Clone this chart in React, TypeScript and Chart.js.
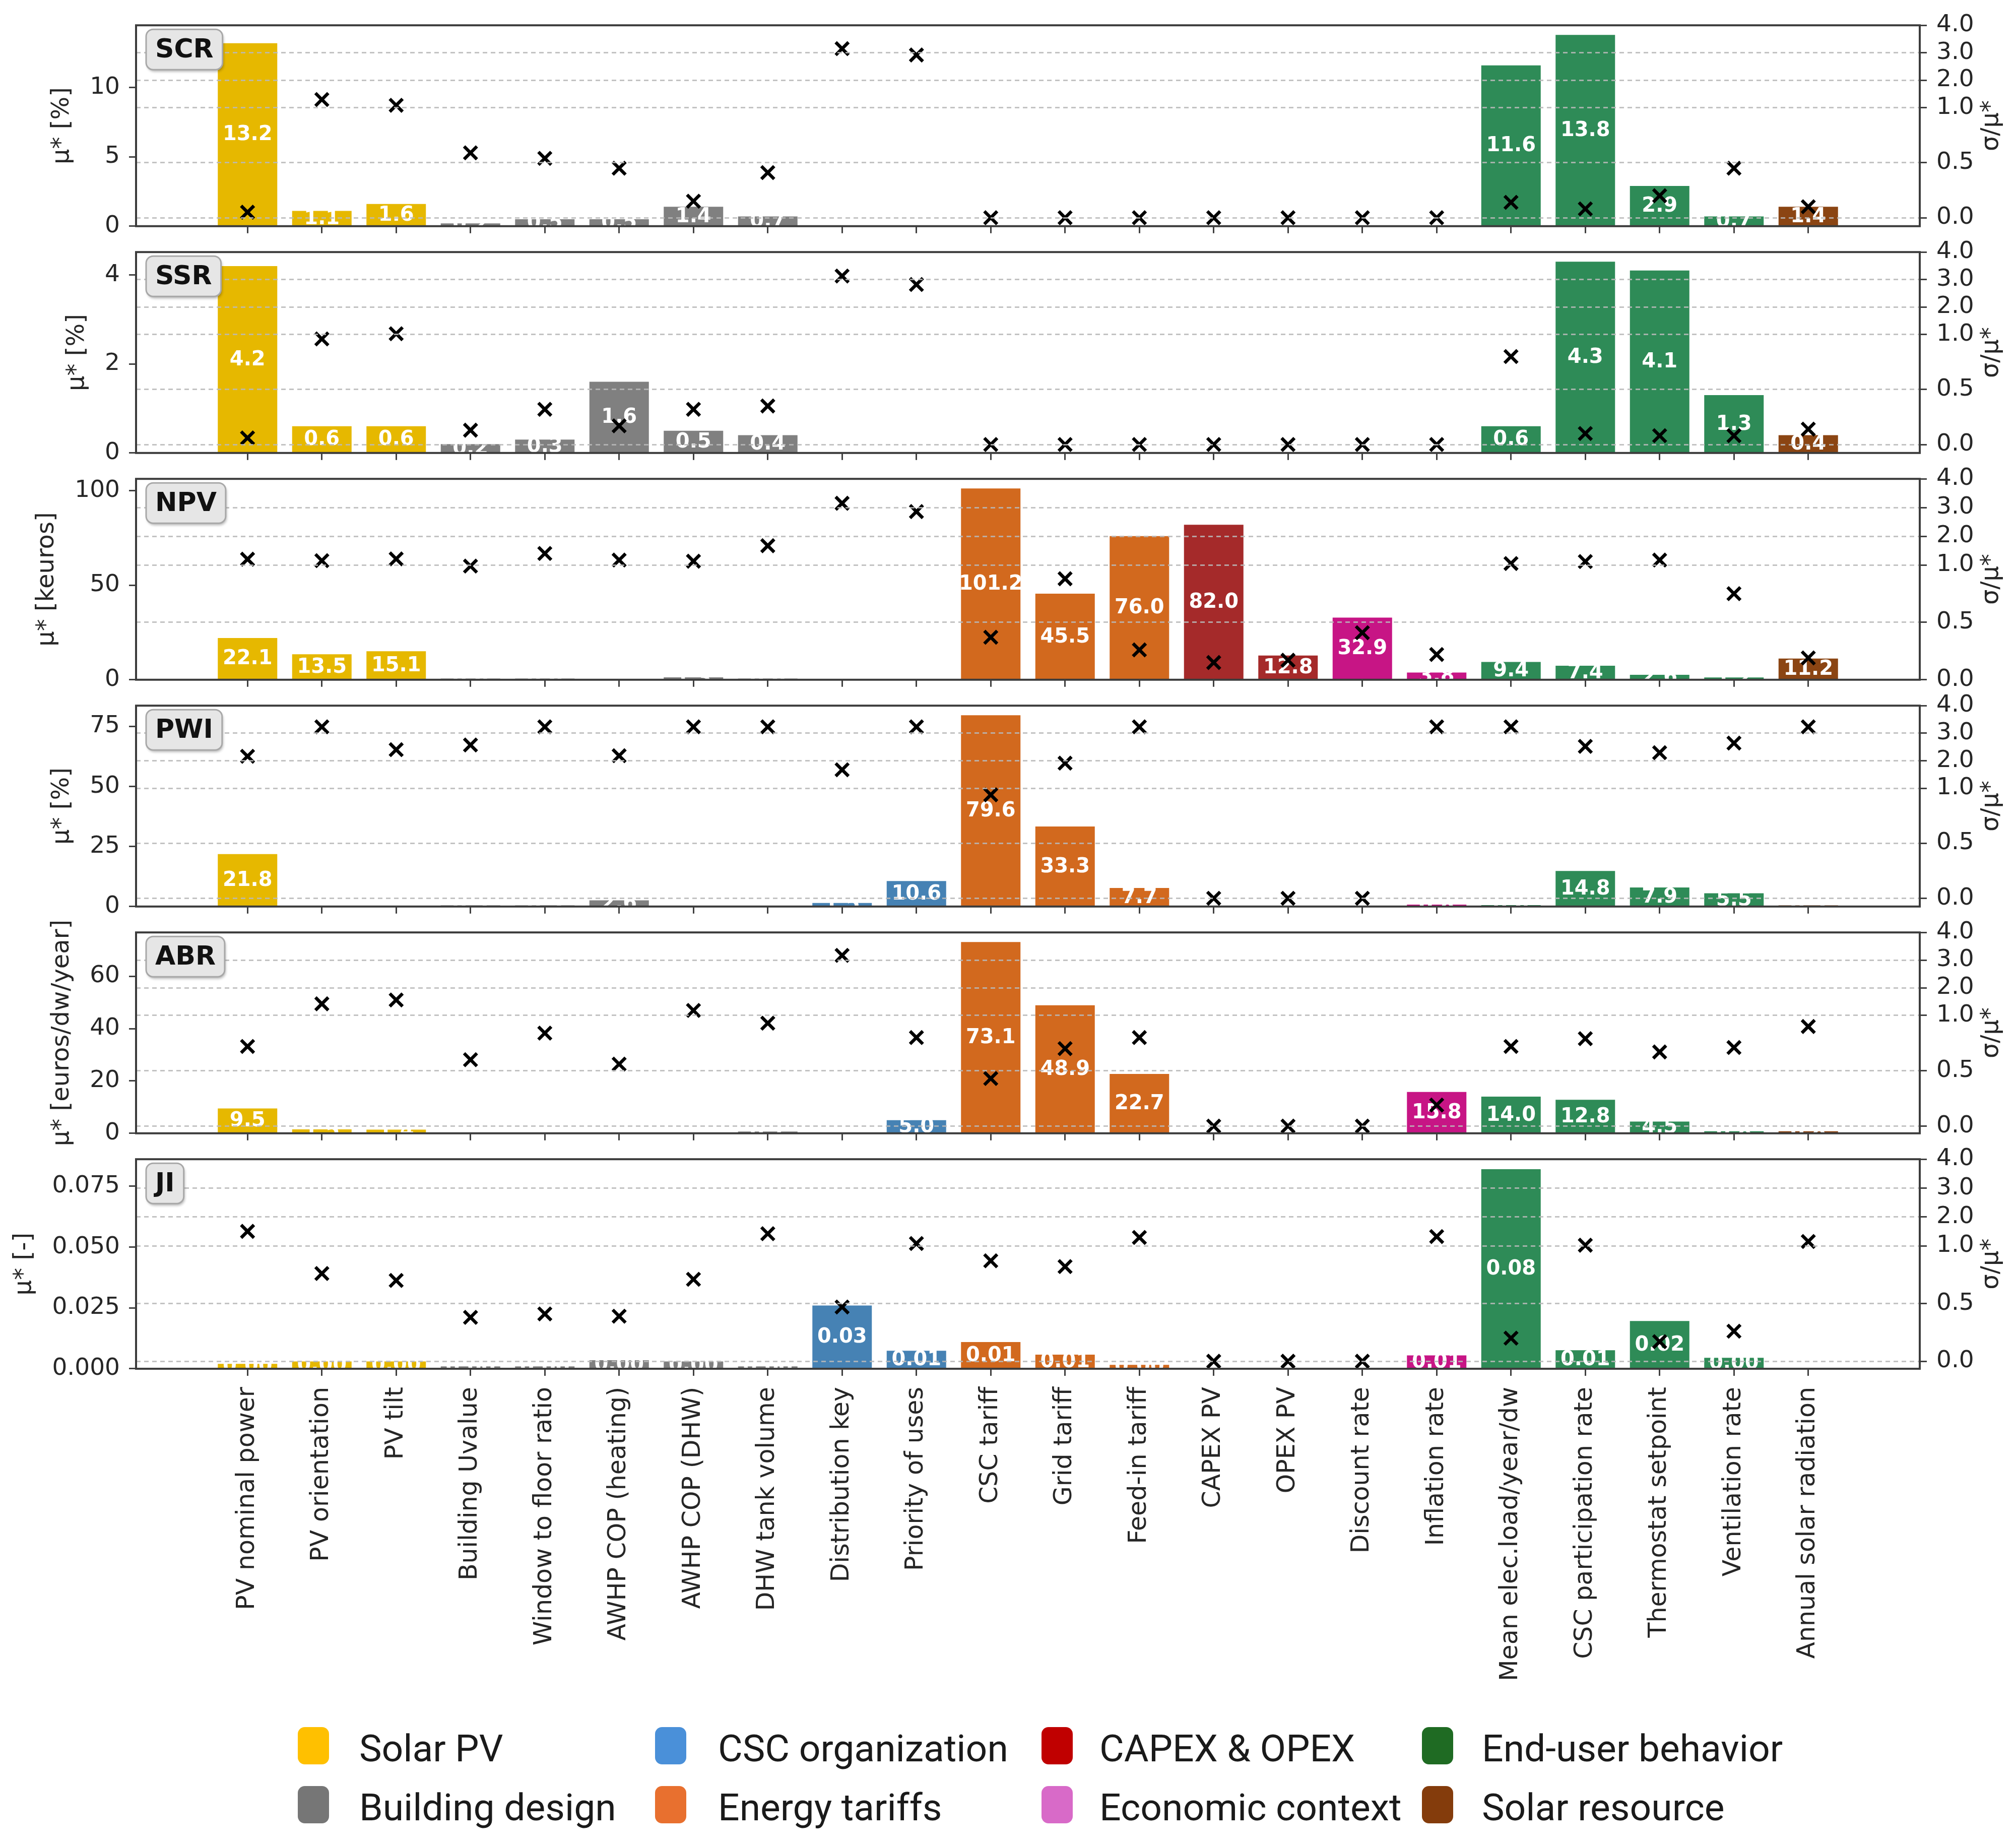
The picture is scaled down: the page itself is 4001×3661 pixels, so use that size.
import React, { useEffect, useRef } from "react";
import { Chart, registerables, LinearScale } from "chart.js";

Chart.register(...registerables);

// σ/μ* axis: linear from 0 to 1, then a quarter of that per unit up to 4
const fwd = (v: number) => (v <= 1 ? v : 1 + (v - 1) / 4);
const inv = (t: number) => (t <= 1 ? t : 1 + (t - 1) * 4);

class SigmaScale extends LinearScale {
  static id = "sigma";
  static defaults = LinearScale.defaults;
  getPixelForValue(value: any) {
    return value == null ? NaN : super.getPixelForValue(fwd(value));
  }
  getValueForPixel(pixel: number) {
    return inv(super.getValueForPixel(pixel) as number);
  }
}
Chart.register(SigmaScale as any);

Chart.defaults.font.family = "'DejaVu Sans', sans-serif";
Chart.defaults.color = "#262626";

// ---- data ----
const PARAMS = [
  "PV nominal power", "PV orientation", "PV tilt", "Building Uvalue",
  "Window to floor ratio", "AWHP COP (heating)", "AWHP COP (DHW)", "DHW tank volume",
  "Distribution key", "Priority of uses", "CSC tariff", "Grid tariff", "Feed-in tariff",
  "CAPEX PV", "OPEX PV", "Discount rate", "Inflation rate", "Mean elec.load/year/dw",
  "CSC participation rate", "Thermostat setpoint", "Ventilation rate", "Annual solar radiation",
];
const PARAM_GROUP = [0, 0, 0, 1, 1, 1, 1, 1, 2, 2, 3, 3, 3, 4, 4, 5, 5, 6, 6, 6, 6, 7];

const GROUPS = [
  "Solar PV", "Building design", "CSC organization", "Energy tariffs",
  "CAPEX & OPEX", "Economic context", "End-user behavior", "Solar resource",
];
const BAR_COLORS = ["#e6b800", "#808080", "#4682b4", "#d2691e", "#a52a2a", "#c71585", "#2e8b57", "#8b4513"];
const LEGEND_COLORS = ["#ffc000", "#767676", "#4a90d9", "#e8702f", "#c00000", "#d86ac8", "#1f6b23", "#843c0c"];

const SCR_MU = [13.2, 1.1, 1.6, 0.2, 0.5, 0.5, 1.4, 0.7, 0, 0, 0, 0, 0, 0, 0, 0, 0, 11.6, 13.8, 2.9, 0.7, 1.4];
const SCR_SIG = [0.05, 1.3, 1.09, 0.59, 0.54, 0.45, 0.15, 0.41, 3.15, 2.92, 0, 0, 0, 0, 0, 0, 0, 0.14, 0.08, 0.2, 0.45, 0.1];

const SSR_MU = [4.2, 0.6, 0.6, 0.2, 0.3, 1.6, 0.5, 0.4, 0, 0, 0, 0, 0, 0, 0, 0, 0, 0.6, 4.3, 4.1, 1.3, 0.4];
const SSR_SIG = [0.06, 0.96, 1.03, 0.13, 0.32, 0.17, 0.32, 0.35, 3.13, 2.82, 0, 0, 0, 0, 0, 0, 0, 0.8, 0.1, 0.08, 0.08, 0.14];

const NPV_MU = [22.1, 13.5, 15.1, 0.6, 0.6, 0.5, 1.3, 0.6, 0, 0, 101.2, 45.5, 76.0, 82.0, 12.8, 32.9, 3.8, 9.4, 7.4, 2.6, 1.2, 11.2];
const NPV_SIG = [1.2, 1.15, 1.21, 0.99, 1.4, 1.17, 1.13, 1.67, 3.15, 2.86, 0.37, 0.88, 0.26, 0.15, 0.17, 0.41, 0.22, 1.05, 1.12, 1.17, 0.75, 0.19];

const PWI_MU = [21.8, 0.1, 0.1, 0.5, 0.5, 2.6, 0.1, 0.1, 1.5, 10.6, 79.6, 33.3, 7.7, 0, 0, 0, 0.8, 0.6, 14.8, 7.9, 5.5, 0.5];
const PWI_SIG = [2.16, 3.23, 2.4, 2.57, 3.23, 2.18, 3.23, 3.23, 1.67, 3.23, 0.94, 1.91, 3.23, 0, 0, 0, 3.23, 3.23, 2.52, 2.29, 2.64, 3.23];

const ABR_MU = [9.5, 1.5, 1.4, 0, 0, 0, 0, 0.7, 0, 5.0, 73.1, 48.9, 22.7, 0, 0, 0, 15.8, 14.0, 12.8, 4.5, 0.8, 0.8];
const ABR_SIG = [0.72, 1.42, 1.56, 0.6, 0.84, 0.56, 1.18, 0.93, 3.17, 0.8, 0.43, 0.7, 0.8, 0, 0, 0, 0.19, 0.72, 0.79, 0.67, 0.71, 0.9];

const JI_MU = [0.002, 0.003, 0.003, 0.001, 0.001, 0.0035, 0.003, 0.001, 0.026, 0.0074, 0.011, 0.0058, 0.0016, 0, 0, 0, 0.0055, 0.082, 0.0076, 0.0196, 0.0045, 0];
const JI_SIG = [1.5, 0.76, 0.7, 0.38, 0.41, 0.39, 0.71, 1.42, 0.47, 1.08, 0.87, 0.82, 1.29, 0, 0, 0, 1.32, 0.2, 1.02, 0.17, 0.26, 1.15];

const NAMES = ["SCR", "SSR", "NPV", "PWI", "ABR", "JI"];
const Y_TITLES = ["μ* [%]", "μ* [%]", "μ* [keuros]", "μ* [%]", "μ* [euros/dw/year]", "μ* [-]"];
const MU = [SCR_MU, SSR_MU, NPV_MU, PWI_MU, ABR_MU, JI_MU];
const SIG = [SCR_SIG, SSR_SIG, NPV_SIG, PWI_SIG, ABR_SIG, JI_SIG];
const LEFT_TICKS = [[0, 5, 10], [0, 2, 4], [0, 50, 100], [0, 25, 50, 75], [0, 20, 40, 60], [0, 0.025, 0.05, 0.075]];
const LEFT_DEC = [0, 0, 0, 0, 0, 3];
const LABEL_DEC = [1, 1, 1, 1, 1, 2];
const SIGMA_TICKS = [0, 0.5, 1, 2, 3, 4];

// ---- layout ----
const W = 4001;
const PLOT_LEFT = 270;
const PLOT_RIGHT = 3810;
const PANEL_TOP0 = 43;
const PANEL_PITCH = 450;
const PANEL_H = 423;
const PAD_TOP = 40;
const SIGMA_MIN = [-0.077, -0.077, 0, -0.075, -0.065, -0.065];
const TICK_COLOR = "#404040";
const TICK_FONT = 47;
const TITLE_FONT = 48;

const decorPlugin = {
  id: "decor",
  afterDatasetDraw(chart: any, args: any, opts: any) {
    if (args.index !== 1) return;
    const p = opts.panel;
    const { ctx, chartArea: a } = chart;
    ctx.save();
    ctx.beginPath();
    ctx.rect(a.left, a.top, a.right - a.left, a.bottom - a.top);
    ctx.clip();
    ctx.fillStyle = "#ffffff";
    ctx.font = "bold 40px 'DejaVu Sans'";
    ctx.textAlign = "center";
    ctx.textBaseline = "middle";
    args.meta.data.forEach((bar: any, i: number) => {
      const v = MU[p][i];
      if (!v) return;
      const { x, y, base } = bar.getProps(["x", "y", "base"], true);
      ctx.fillText(v.toFixed(LABEL_DEC[p]), x, (y + base) / 2 + 1);
    });
    ctx.restore();
  },
  afterDraw(chart: any, _args: any, opts: any) {
    const p = opts.panel;
    const { ctx, chartArea: a } = chart;
    ctx.save();
    // frame
    ctx.strokeStyle = "#3c3c3c";
    ctx.lineWidth = 4;
    ctx.strokeRect(a.left, a.top, a.right - a.left, a.bottom - a.top);

    // metric badge
    ctx.font = "bold 52px 'DejaVu Sans'";
    const tw = ctx.measureText(NAMES[p]).width;
    const bx = a.left + 20;
    const by = a.top + 8;
    const bw = tw + 36;
    const bh = 80;
    ctx.shadowColor = "rgba(0,0,0,0.28)";
    ctx.shadowOffsetX = 2;
    ctx.shadowOffsetY = 4;
    ctx.shadowBlur = 5;
    ctx.fillStyle = "#e6e6e6";
    ctx.beginPath();
    ctx.roundRect(bx, by, bw, bh, 14);
    ctx.fill();
    ctx.shadowColor = "transparent";
    ctx.strokeStyle = "#a8a8a8";
    ctx.lineWidth = 3;
    ctx.stroke();
    ctx.fillStyle = "#111111";
    ctx.textAlign = "center";
    ctx.textBaseline = "middle";
    ctx.fillText(NAMES[p], bx + bw / 2, by + bh / 2 + 2);

    // axis titles
    ctx.font = `${TICK_FONT}px 'DejaVu Sans'`;
    const labels = chart.scales.y.ticks.map((t: any) => String(t.label));
    const maxW = Math.max(...labels.map((s: string) => ctx.measureText(s).width));
    const cy = (a.top + a.bottom) / 2;
    ctx.fillStyle = "#262626";
    ctx.font = `${TITLE_FONT}px 'DejaVu Sans'`;
    ctx.save();
    ctx.translate(a.left - 14 - 18 - maxW - 55, cy);
    ctx.rotate(-Math.PI / 2);
    ctx.fillText(Y_TITLES[p], 0, 0);
    ctx.restore();
    ctx.save();
    ctx.translate(a.right + 143, cy);
    ctx.rotate(-Math.PI / 2);
    ctx.fillText("σ/μ*", 0, 0);
    ctx.restore();
    ctx.restore();
  },
};

function Panel({ p }: { p: number }) {
  const ref = useRef<HTMLCanvasElement>(null);
  const last = p === NAMES.length - 1;
  const xh = last ? 660 : 30;
  const height = PAD_TOP + PANEL_H + xh;

  useEffect(() => {
    if (!ref.current) return;
    const maxMu = Math.max(...MU[p]);
    const chart = new Chart(ref.current, {
      type: "bar",
      data: {
        datasets: [
          {
            type: "scatter",
            data: SIG[p].map((v, i) => ({ x: i, y: v })),
            yAxisID: "y2",
            pointStyle: "crossRot",
            pointRadius: 18,
            borderWidth: 6.5,
            borderColor: "#000000",
            backgroundColor: "#000000",
            clip: false as any,
          } as any,
          {
            type: "bar",
            data: MU[p].map((v, i) => ({ x: i, y: v })),
            yAxisID: "y",
            backgroundColor: PARAM_GROUP.map((g) => BAR_COLORS[g]),
            borderWidth: 0,
            barPercentage: 0.8,
            categoryPercentage: 1,
          } as any,
        ],
      },
      options: {
        animation: false,
        responsive: true,
        maintainAspectRatio: false,
        layout: { padding: { top: PAD_TOP, left: 0, right: 0, bottom: 0 } },
        plugins: {
          legend: { display: false },
          tooltip: { enabled: false },
          decor: { panel: p },
        } as any,
        scales: {
          x: {
            type: "linear",
            min: -1.5,
            max: 22.5,
            offset: false,
            bounds: "data",
            afterBuildTicks: (s: any) => {
              s.ticks = PARAMS.map((_, i) => ({ value: i }));
            },
            afterFit: (s: any) => {
              s.height = xh;
            },
            grid: {
              display: true,
              drawOnChartArea: false,
              drawTicks: true,
              offset: false,
              tickLength: 14,
              tickColor: TICK_COLOR,
              tickWidth: 3,
            },
            border: { display: false },
            ticks: {
              display: last,
              autoSkip: false,
              minRotation: 90,
              maxRotation: 90,
              padding: 22,
              color: "#262626",
              font: { size: 49 },
              callback: (_v: any, i: number) => PARAMS[i],
            },
          } as any,
          y: {
            type: "linear",
            position: "left",
            min: 0,
            max: maxMu * 1.05,
            bounds: "data",
            afterBuildTicks: (s: any) => {
              s.ticks = LEFT_TICKS[p].map((v) => ({ value: v }));
            },
            afterFit: (s: any) => {
              s.width = PLOT_LEFT;
            },
            grid: {
              display: true,
              drawOnChartArea: false,
              tickLength: 14,
              tickColor: TICK_COLOR,
              tickWidth: 3,
            },
            border: { display: false },
            ticks: {
              padding: 18,
              color: "#262626",
              font: { size: TICK_FONT },
              callback: (v: any) => Number(v).toFixed(LEFT_DEC[p]),
            },
          } as any,
          y2: {
            type: "sigma",
            position: "right",
            min: SIGMA_MIN[p],
            max: fwd(4),
            bounds: "data",
            afterBuildTicks: (s: any) => {
              s.ticks = SIGMA_TICKS.map((v) => ({ value: v }));
            },
            afterFit: (s: any) => {
              s.width = W - PLOT_RIGHT;
            },
            grid: {
              display: true,
              drawOnChartArea: true,
              color: "rgba(185,185,185,0.85)",
              lineWidth: 3,
              z: 1,
              tickLength: 14,
              tickColor: TICK_COLOR,
              tickWidth: 3,
              tickBorderDash: [],
            },
            border: { display: false, dash: [9, 7] },
            ticks: {
              padding: 19,
              color: "#262626",
              font: { size: TICK_FONT },
              callback: (v: any) => Number(v).toFixed(1),
            },
          } as any,
        },
      },
      plugins: [decorPlugin as any],
    });
    return () => chart.destroy();
  }, [p]);

  return (
    <div
      style={{
        position: "absolute",
        left: 0,
        top: PANEL_TOP0 + p * PANEL_PITCH - PAD_TOP,
        width: W,
        height,
      }}
    >
      <canvas ref={ref} />
    </div>
  );
}

// legend grid: groups fill columns top-to-bottom
const LEG_MARKER_X = [591, 1300, 2067, 2822];
const LEG_TEXT_X = [713, 1425, 2182, 2941];
const LEG_ROW_Y = [3427, 3544];

function Legend() {
  return (
    <>
      {GROUPS.map((g, k) => {
        const c = Math.floor(k / 2);
        const r = k % 2;
        return (
          <React.Fragment key={g}>
            <div
              style={{
                position: "absolute",
                left: LEG_MARKER_X[c],
                top: LEG_ROW_Y[r],
                width: 62,
                height: 74,
                borderRadius: 14,
                background: LEGEND_COLORS[k],
              }}
            />
            <div
              style={{
                position: "absolute",
                left: LEG_TEXT_X[c],
                top: LEG_ROW_Y[r] + 42,
                transform: "translateY(-50%)",
                fontFamily: "Roboto, 'Liberation Sans', sans-serif",
                fontSize: 75,
                lineHeight: 1,
                color: "#1a1a1a",
                whiteSpace: "nowrap",
              }}
            >
              {g}
            </div>
          </React.Fragment>
        );
      })}
    </>
  );
}

export default function App() {
  return (
    <>
      <style>{"body{margin:0;background:#fff}"}</style>
      <div style={{ position: "relative", width: W, height: 3661, background: "#ffffff", overflow: "hidden" }}>
        {NAMES.map((_, p) => (
          <Panel key={p} p={p} />
        ))}
        <Legend />
      </div>
    </>
  );
}
